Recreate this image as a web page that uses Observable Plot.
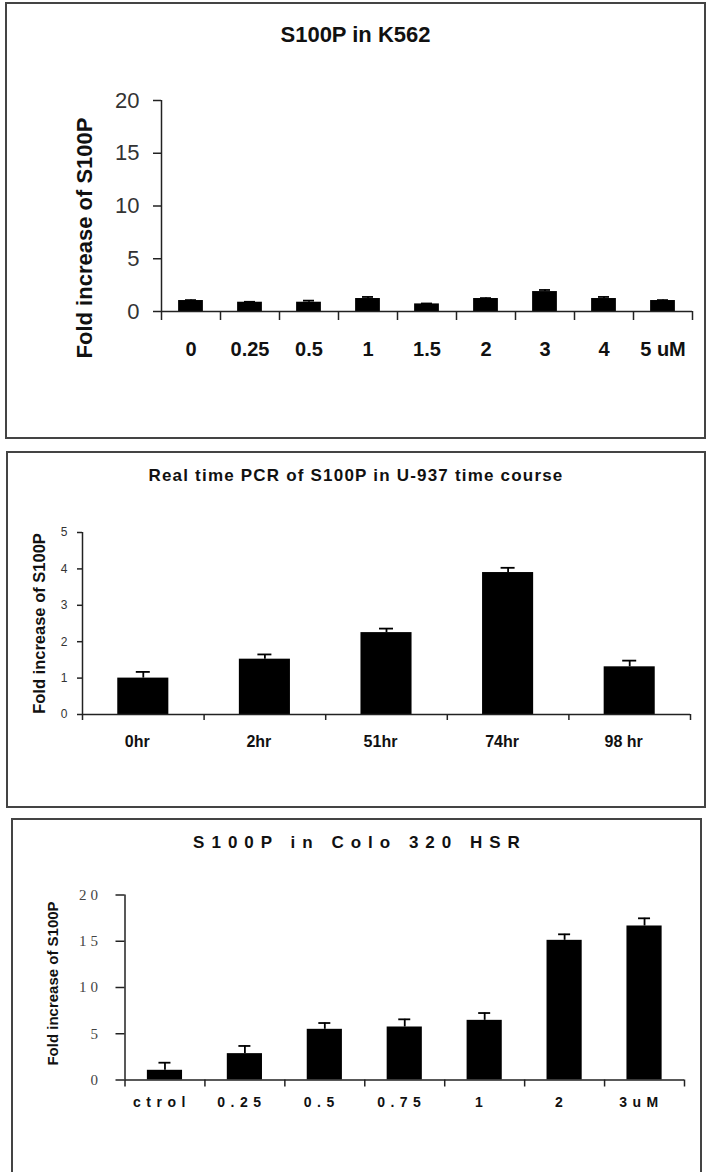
<!DOCTYPE html>
<html>
<head>
<meta charset="utf-8">
<script src="https://cdn.jsdelivr.net/npm/d3@7"></script>
<script src="https://cdn.jsdelivr.net/npm/@observablehq/plot@0.6"></script>
<style>
  html, body { margin: 0; padding: 0; background: #fff; overflow: hidden; width: 708px; height: 1172px; }
  .panel { position: absolute; box-sizing: border-box; border: 2px solid #444; background: #fff; }
  .title { font-family: "Liberation Sans", Arial, sans-serif; font-weight: bold; color: #111; text-align: center; white-space: nowrap; }
  .panel svg { display: block; }
  #p3 g[aria-label="y-axis tick label"] { letter-spacing: 4px; }
  #p3 g[aria-label="x-axis tick label"] { letter-spacing: 5.5px; }
</style>
</head>
<body>
<div id="p1" class="panel" style="left:5px;top:2px;width:701px;height:437px">
  <div class="title" style="height:62px;line-height:62px;font-size:22px">S100P in K562</div>
</div>
<div id="p2" class="panel" style="left:6px;top:451px;width:700px;height:357px">
  <div class="title" style="height:46px;line-height:46px;font-size:17px;letter-spacing:1.2px">Real time PCR of S100P in U-937 time course</div>
</div>
<div id="p3" class="panel" style="left:11px;top:818px;width:691px;height:358px">
  <div class="title" style="height:46px;line-height:46px;font-size:17px;letter-spacing:7px;padding-left:7px">S100P in Colo 320 HSR</div>
</div>
<script>
// K562: fold change of S100P by dose
const k562Doses = ["0", "0.25", "0.5", "1", "1.5", "2", "3", "4", "5 uM"];
const k562Fold  = [1.04, 0.88, 0.88, 1.23, 0.72, 1.23, 1.89, 1.23, 1.04];
const k562Err   = [0.04, 0.04, 0.15, 0.15, 0.04, 0.04, 0.15, 0.15, 0.04];
const k562Ticks = [0, 5, 10, 15, 20];

// U-937 time course
const u937Times = ["0hr", "2hr", "51hr", "74hr", "98 hr"];
const u937Fold  = [1.0, 1.52, 2.25, 3.9, 1.31];
const u937Err   = [0.17, 0.13, 0.11, 0.13, 0.17];
const u937Ticks = [0, 1, 2, 3, 4, 5];

// Colo 320 HSR: fold change of S100P by dose
const coloDoses = ["ctrol", "0.25", "0.5", "0.75", "1", "2", "3uM"];
const coloFold  = [1.05, 2.85, 5.48, 5.73, 6.45, 15.1, 16.65];
const coloErr   = [0.82, 0.83, 0.68, 0.83, 0.79, 0.65, 0.83];
const coloTicks = [0, 5, 10, 15, 20];

const yLabel = "Fold increase of S100P";
const sans = "'Liberation Sans', Arial, sans-serif";

function barChart(o) {
  const n = o.cats.length;
  const step = (o.width - o.ml - o.mr) / n;
  const bw = step * (1 - o.pad);
  const frameH = o.height - o.mt - o.mb;
  const rows = o.cats.map((c, i) => ({cat: c, value: o.vals[i], top: o.vals[i] + o.errs[i]}));
  const yMax = o.yTicks[o.yTicks.length - 1];
  return Plot.plot({
    width: o.width,
    height: o.height,
    marginLeft: o.ml, marginRight: o.mr, marginTop: o.mt, marginBottom: o.mb,
    style: {fontFamily: sans, color: "#111", background: "transparent", overflow: "visible"},
    x: {type: "band", domain: o.cats, paddingInner: o.pad, paddingOuter: o.pad / 2, round: false},
    y: {type: "linear", domain: [0, yMax]},
    marks: [
      // error bars (upper half)
      Plot.ruleX(rows, {x: "cat", y1: "value", y2: "top", stroke: "#000", strokeWidth: 1.8}),
      Plot.tickY(rows, {x: "cat", y: "top", stroke: "#000", strokeWidth: 1.8, inset: (bw - o.capW) / 2}),
      Plot.barY(rows, {x: "cat", y: "value", fill: "#000"}),
      // axis lines
      Plot.ruleY([0], {stroke: "#222", strokeWidth: 1.5}),
      Plot.ruleX([o.cats[0]], {x: d => d, y1: 0, y2: yMax, dx: -step / 2, stroke: "#222", strokeWidth: 1.5}),
      // category boundary ticks below the baseline
      Plot.ruleX(o.cats, {x: d => d, dx: -step / 2, insetTop: frameH, insetBottom: -o.xTick, stroke: "#222", strokeWidth: 1.5}),
      Plot.ruleX([o.cats[n - 1]], {x: d => d, dx: step / 2, insetTop: frameH, insetBottom: -o.xTick, stroke: "#222", strokeWidth: 1.5}),
      Plot.axisY({
        ticks: o.yTicks, tickFormat: d => String(d), tickSize: o.yTick, tickPadding: o.yPad, label: null,
        fontSize: o.yFont, fontFamily: o.yFamily || sans, fill: o.yColor || "#333", stroke: "#222", strokeWidth: 1.5
      }),
      Plot.axisX({
        tickSize: 0, tickPadding: o.xPad, label: null, dx: o.xDx || 0,
        fontSize: o.xFont, fontWeight: "bold", fill: "#111"
      }),
      Plot.text([yLabel], {
        text: d => d, frameAnchor: "left", textAnchor: "middle", lineAnchor: "middle",
        dx: o.labelDx, dy: o.labelDy, rotate: -90,
        fontSize: o.labelFont, fontWeight: "bold", fill: "#111", ariaLabel: "y label"
      })
    ]
  });
}

document.getElementById("p1").append(barChart({
  cats: k562Doses, vals: k562Fold, errs: k562Err, yTicks: k562Ticks,
  width: 697, height: 371, ml: 154, mr: 12, mt: 34, mb: 126,
  pad: 0.58, capW: 11, xTick: 9, yTick: 8, yPad: 14, yFont: 22, yColor: "#333",
  xPad: 30, xFont: 20, labelDx: -77, labelDy: 32, labelFont: 22
}));

document.getElementById("p2").append(barChart({
  cats: u937Times, vals: u937Fold, errs: u937Err, yTicks: u937Ticks,
  width: 696, height: 307, ml: 74, mr: 14, mt: 33, mb: 92,
  pad: 0.58, capW: 14, xTick: 6, yTick: 5, yPad: 10, yFont: 12, yColor: "#333",
  xPad: 21, xFont: 16, xDx: -6, labelDx: -43, labelDy: 0, labelFont: 16.5
}));

document.getElementById("p3").append(barChart({
  cats: coloDoses, vals: coloFold, errs: coloErr, yTicks: coloTicks,
  width: 687, height: 308, ml: 111.5, mr: 16, mt: 28.5, mb: 94.5,
  pad: 0.56, capW: 12, xTick: 7, yTick: 9, yPad: 14, yFont: 15,
  yFamily: "'Liberation Serif', 'Times New Roman', serif", yColor: "#444",
  xPad: 17, xFont: 14, xDx: -3, labelDx: -71.5, labelDy: -4, labelFont: 15
}));
</script>
</body>
</html>
